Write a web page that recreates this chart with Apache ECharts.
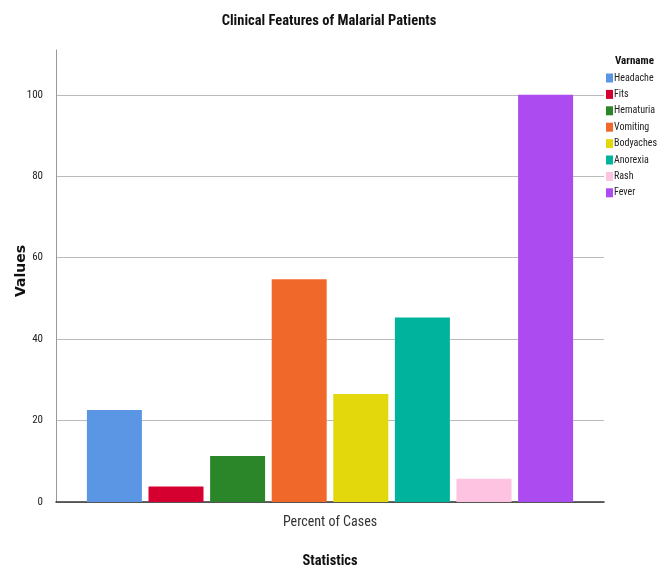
<!DOCTYPE html>
<html><head><meta charset="utf-8">
<script src="https://cdn.jsdelivr.net/npm/echarts@6/dist/echarts.min.js"></script>
<style>html,body{margin:0;padding:0;background:#fff}#c{width:658px;height:569px}</style>
</head><body><div id="c"></div>
<script>
const categories = ['Percent of Cases'];
const seriesNames = ['Headache','Fits','Hematuria','Vomiting','Bodyaches','Anorexia','Rash','Fever'];
const seriesValues = [22.6, 3.8, 11.3, 54.7, 26.5, 45.3, 5.7, 100];
const seriesColors = ['#5a96e3','#d60030','#2b8529','#f0692b','#e2d80c','#00b39c','#fdc3e0','#ab4bf0'];
const yTicks = [0, 20, 40, 60, 80, 100];

const narrow = '"Roboto Condensed", "Liberation Sans Narrow", Arial, sans-serif';
const chart = echarts.init(document.getElementById('c'), null, {renderer:'canvas'});
chart.setOption({
  animation: false,
  backgroundColor: '#fff',
  title: [
    {text: 'Clinical Features of Malarial Patients', left: 'center', top: 9,
     textStyle: {fontFamily: narrow, fontWeight: 'bold', fontSize: 14.5, color: '#111'}},
    {text: 'Varname', left: 610, top: 51,
     textStyle: {fontFamily: narrow, fontWeight: 'bold', fontSize: 11, color: '#111'}}
  ],
  legend: {
    orient: 'vertical', left: 604, top: 71, itemWidth: 7, itemHeight: 9, itemGap: 6.4,
    icon: 'rect', data: seriesNames, padding: 2,
    textStyle: {fontFamily: narrow, fontSize: 10, color: '#222', padding: [0,0,0,-4]}
  },
  grid: {left: 56, right: 54, top: 50, bottom: 67, outerBoundsMode: 'none', containLabel: false},
  xAxis: {
    type: 'category', data: categories,
    name: 'Statistics', nameLocation: 'middle', nameGap: 52, nameMoveOverlap: false,
    nameTextStyle: {fontFamily: narrow, fontWeight: 'bold', fontSize: 14.5, color: '#111'},
    axisLine: {lineStyle: {color: '#333', width: 1.5}},
    axisTick: {show: false},
    axisLabel: {fontFamily: narrow, fontSize: 14, color: '#333', margin: 13}
  },
  yAxis: {
    type: 'value', min: 0, max: 111, interval: 20,
    name: 'Values', nameLocation: 'middle', nameGap: 28, nameMoveOverlap: false,
    nameTextStyle: {fontFamily: '"DejaVu Sans", Verdana, sans-serif', fontWeight: 'bold', fontSize: 14, color: '#111',
      padding: [0, 0, 0, 10]},
    axisLine: {show: true, lineStyle: {color: '#999', width: 1}},
    axisTick: {show: false},
    axisLabel: {fontFamily: narrow, fontSize: 11, color: '#222', margin: 13, showMaxLabel: false,
      formatter: v => yTicks.includes(v) ? String(v) : ''},
    splitLine: {show: true, showMaxLine: false, lineStyle: {color: '#bbb', width: 1.2}}
  },
  series: seriesNames.map((n, i) => ({
    name: n, type: 'bar', data: [seriesValues[i]],
    barWidth: 55, barGap: '12%',
    itemStyle: {color: seriesColors[i]}
  }))
});
</script></body></html>
